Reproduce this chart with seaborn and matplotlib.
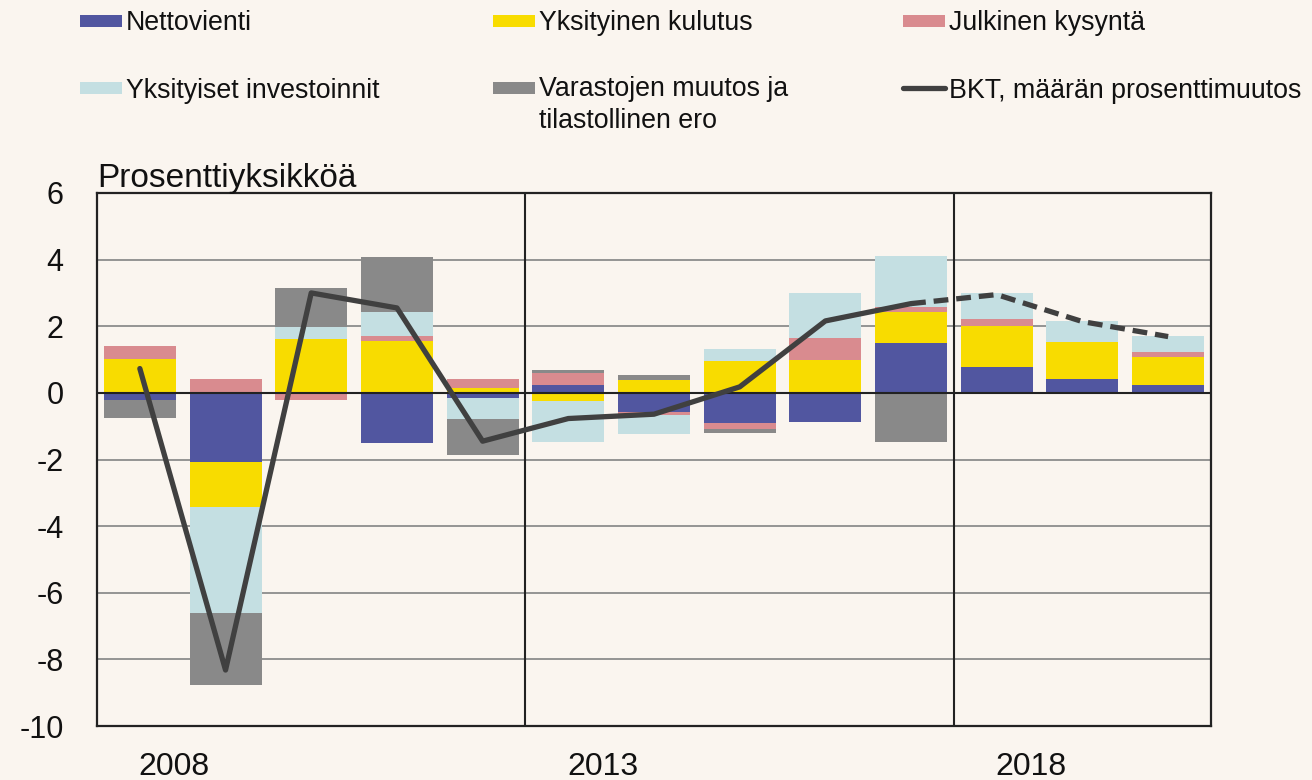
import numpy as np
import seaborn as sns
import matplotlib.pyplot as plt
from matplotlib.patches import Rectangle
from matplotlib.lines import Line2D

# values (percentage points)
years = [str(y) for y in range(2008, 2021)]
nettovienti = [-0.22, -2.09, 0.0, -1.50, -0.16, 0.24, -0.56, -0.90, -0.86, 1.51, 0.78, 0.43, 0.23]
kulutus = [1.01, -1.33, 1.61, 1.56, 0.16, -0.25, 0.40, 0.97, 0.99, 0.91, 1.23, 1.09, 0.84]
julkinen = [0.40, 0.42, -0.20, 0.15, 0.26, 0.36, -0.09, -0.17, 0.65, 0.17, 0.21, 0.0, 0.17]
investoinnit = [0.0, -3.19, 0.38, 0.71, -0.61, -1.21, -0.57, 0.36, 1.35, 1.51, 0.77, 0.65, 0.48]
varastot = [-0.52, -2.16, 1.16, 1.66, -1.10, 0.08, 0.14, -0.14, 0.0, -1.47, -0.04, 0.0, 0.0]
bkt = [0.73, -8.32, 3.0, 2.55, -1.45, -0.77, -0.64, 0.18, 2.16, 2.68, 2.95, 2.14, 1.69]
n_actual = 10  # 2008-2017 solid, forecast dashed after that

labels = ["Nettovienti", "Yksityinen kulutus", "Julkinen kysyntä",
          "Yksityiset investoinnit", "Varastojen muutos ja\ntilastollinen ero"]
colors = ["#5156a0", "#f8dc00", "#d98b8f", "#c4dfe2", "#898989"]
line_color = "#404040"
bg = "#faf5ef"

sns.set_style("white")
plt.rcParams["font.family"] = ["Liberation Sans", "DejaVu Sans"]

fig = plt.figure(figsize=(13.12, 7.8), dpi=100, facecolor=bg)
W, H = 1312, 780
ax = fig.add_axes([97 / W, (H - 726) / H, (1211 - 97) / W, (726 - 193) / H])
ax.set_facecolor(bg)

# stacked bars, positives and negatives stacked separately
pos = np.zeros(len(years))
neg = np.zeros(len(years))
for vals, col in zip([nettovienti, kulutus, julkinen, investoinnit, varastot], colors):
    v = np.array(vals)
    bottom = np.where(v >= 0, pos, neg)
    sns.barplot(x=years, y=v, bottom=bottom, color=col, saturation=1,
                width=0.84, errorbar=None, linewidth=0, ax=ax, zorder=2)
    pos = pos + np.where(v > 0, v, 0)
    neg = neg + np.where(v < 0, v, 0)

idx = np.arange(len(years))
sns.lineplot(x=idx[:n_actual], y=bkt[:n_actual], color=line_color,
             linewidth=3.8, ax=ax, zorder=5)
sns.lineplot(x=idx[n_actual - 1:], y=bkt[n_actual - 1:], color=line_color,
             linewidth=3.8, linestyle=(0, (2.8, 1.5)), ax=ax, zorder=5)

ax.set_xlim(-0.5, len(years) - 0.5)
ax.set_ylim(-10, 6)
ax.set_yticks(range(-10, 7, 2))
ax.set_yticklabels([str(t) for t in range(-10, 7, 2)], fontsize=22)
ax.set_xticks([0.4, 5.4, 10.4])
ax.set_xticklabels(["2008", "2013", "2018"], fontsize=23)
ax.tick_params(axis="both", length=0, colors="#111111")
ax.tick_params(axis="y", pad=24)
ax.tick_params(axis="x", pad=19)
ax.set_xlabel("")
ax.set_ylabel("")

for y in range(-8, 6, 2):
    if y != 0:
        ax.axhline(y, color="#8c8c8c", lw=1.3, zorder=1)
ax.axhline(0, color="#222222", lw=1.5, zorder=4)
for xv in [4.5, 9.5]:
    ax.axvline(xv, color="#222222", lw=1.5, zorder=4)
for s in ax.spines.values():
    s.set_visible(True)
    s.set_color("#222222")
    s.set_linewidth(1.6)

ax.text(0, 1.011, "Prosenttiyksikköä", transform=ax.transAxes,
        fontsize=24, ha="left", va="baseline", color="#111111")

# legend laid out like the original, three columns
def px(x, y):
    return x / W, 1 - y / H

entries = [(labels[0], colors[0], 80, 21), (labels[3], colors[3], 80, 88),
           (labels[1], colors[1], 493, 21), (labels[4], colors[4], 493, 88),
           (labels[2], colors[2], 903, 21)]
for lab, col, x0, yc in entries:
    fx, fy = px(x0, yc + 6)
    fig.patches.append(Rectangle((fx, fy), 42 / W, 12 / H, transform=fig.transFigure,
                                 facecolor=col, edgecolor="none"))
    # baseline of the last line, so multi-line labels hang downwards
    extra = 30 * lab.count("\n")
    tx, ty = px(x0 + 46, yc + 9.5 + extra)
    fig.text(tx, ty, lab, fontsize=19.3, ha="left", va="baseline",
             linespacing=1.3, color="#111111")
lx0, ly = px(903, 88)
lx1, _ = px(945, 88)
fig.lines.append(Line2D([lx0, lx1], [ly, ly], transform=fig.transFigure,
                        color=line_color, lw=3.8))
tx, ty = px(949, 88 + 9.5)
fig.text(tx, ty, "BKT, määrän prosenttimuutos", fontsize=19.3, ha="left",
         va="baseline", color="#111111")

fig.savefig("out.png", dpi=100, facecolor=bg)
